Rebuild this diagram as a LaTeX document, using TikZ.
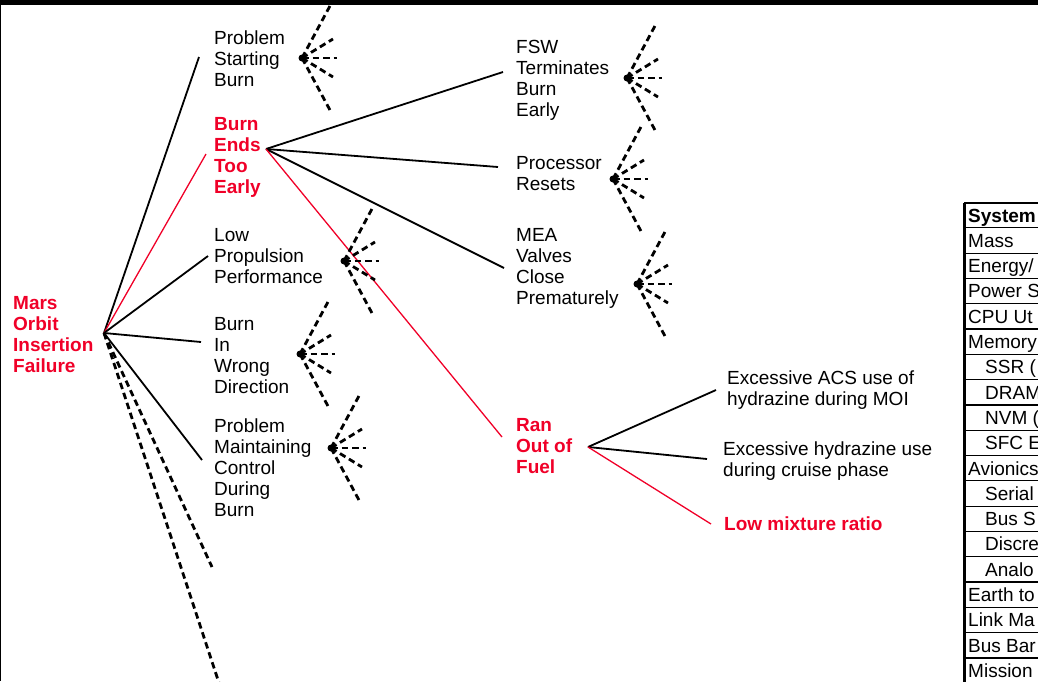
\documentclass[tikz,border=0pt]{standalone}
\usepackage{fontspec}
\setmainfont{Liberation Sans}
\usepackage{tikz}
\usetikzlibrary{calc}
\definecolor{failred}{RGB}{240,0,40}
\newcommand{\causesize}{\fontsize{19}{21}\selectfont}

\begin{document}
\begin{tikzpicture}[
  x=1pt,y=-1pt,
  cause/.style={anchor=base west,align=left,inner sep=0pt,font=\causesize},
  keycause/.style={cause,text=failred,font=\causesize\bfseries},
  branch/.style={line width=1.8pt},
  keybranch/.style={draw=failred,line width=1.3pt},
  ray/.style={dash pattern=on 6.5pt off 4pt,line width=2.8pt},
  rowtext/.style={anchor=base west,inner sep=0pt,font=\causesize},
  every node/.style={align=left}]

  \useasboundingbox (0,0) rectangle (1038,681);
  \clip (0,0) rectangle (1038,681);

  % nodes sit on the baseline of their last line
  \node[keycause] (moi) at (13,372) {Mars\\Orbit\\Insertion\\Failure};
  \node[cause] (psb) at (214,86) {Problem\\Starting\\Burn};
  \node[keycause] (bee) at (214,193) {Burn\\Ends\\Too\\Early};
  \node[cause] (lpp) at (214,283) {Low\\Propulsion\\Performance};
  \node[cause] (biwd) at (214,393) {Burn\\In\\Wrong\\Direction};
  \node[cause] (pmcdb) at (214,516) {Problem\\Maintaining\\Control\\During\\Burn};
  \node[cause] (fsw) at (516,116) {FSW\\Terminates\\Burn\\Early};
  \node[cause] (pr) at (516,190) {Processor\\Resets};
  \node[cause] (mea) at (516,304) {MEA\\Valves\\Close\\Prematurely};
  \node[keycause] (rof) at (516,473) {Ran\\Out of\\Fuel};
  \node[cause] (acs) at (727,405) {Excessive ACS use of\\hydrazine during MOI};
  \node[cause] (cruise) at (723,476) {Excessive hydrazine use\\during cruise phase};
  \node[keycause] (lmr) at (724,530) {Low mixture ratio};

  \coordinate (moi-hub) at (104,333);
  \coordinate (bee-hub) at (266,149);
  \coordinate (rof-hub) at (588,447);
  \coordinate (psb-in) at (199,57);
  \coordinate (bee-in) at (206,154);
  \coordinate (lpp-in) at (208,256);
  \coordinate (biwd-in) at (201,342);
  \coordinate (pmcdb-in) at (202,460);
  \coordinate (more-a) at (212,567);
  \coordinate (more-b) at (219,683);
  \coordinate (fsw-in) at (503,72);
  \coordinate (pr-in) at (498,167);
  \coordinate (mea-in) at (504,268);
  \coordinate (rof-in) at (502,437);
  \coordinate (acs-in) at (716,390);
  \coordinate (cruise-in) at (707,459);
  \coordinate (lmr-in) at (711,524);

  \draw[branch] (moi-hub) -- (psb-in);
  \draw[keybranch] (moi-hub) -- (bee-in);
  \draw[branch] (moi-hub) -- (lpp-in);
  \draw[branch] (moi-hub) -- (biwd-in);
  \draw[branch] (moi-hub) -- (pmcdb-in);
  \draw[ray] (moi-hub) -- (more-a);
  \draw[ray] (moi-hub) -- (more-b);

  \draw[branch] (bee-hub) -- (fsw-in);
  \draw[branch] (bee-hub) -- (pr-in);
  \draw[branch] (bee-hub) -- (mea-in);
  \draw[keybranch] (bee-hub) -- (rof-in);

  \draw[branch] (rof-hub) -- (acs-in);
  \draw[branch] (rof-hub) -- (cruise-in);
  \draw[keybranch] (rof-hub) -- (lmr-in);

  \foreach \f/\x/\y in {psb/302/58,fsw/627/78,pr/613/179,mea/637/284,
                       lpp/344/261,biwd/300/354,pmcdb/331/448}{
    \coordinate (\f-fan) at (\x,\y);
    \fill (\f-fan) circle (3.5pt);
    \foreach \dx/\dy in {29/-54,31/-19,35/0,31/19,29/54}
      \draw[ray] (\f-fan) -- ++(\dx,\dy);
  }

  \foreach \ind/\txt [count=\i from 0] in {0/{\bfseries System},0/Mass,0/{Energy/},
      0/{Power S},0/{CPU Ut},0/Memory,1/{SSR (},1/DRAM,1/{NVM (},1/{SFC E},
      0/Avionics,1/Serial,1/{Bus S},1/Discre,1/Analo,0/{Earth to},
      0/{Link Ma},0/{Bus Bar},0/Mission}{
    \coordinate (row\i) at (964,202.5+25.3*\i);
    \draw[line width=1.2pt] (row\i) -- ++(80,0);
    \node[rowtext] (row\i-text) at ($(row\i)+(4+17*\ind,19.5)$) {\txt};
  }
  \draw[line width=2pt] (row0) -- ++(80,0);
  \draw[line width=3pt] (row0) -- (964,690);

  \fill (0,0) rectangle (1038,4.7);
  \draw[line width=1pt] (0.5,0) -- (0.5,681);
\end{tikzpicture}
\end{document}
